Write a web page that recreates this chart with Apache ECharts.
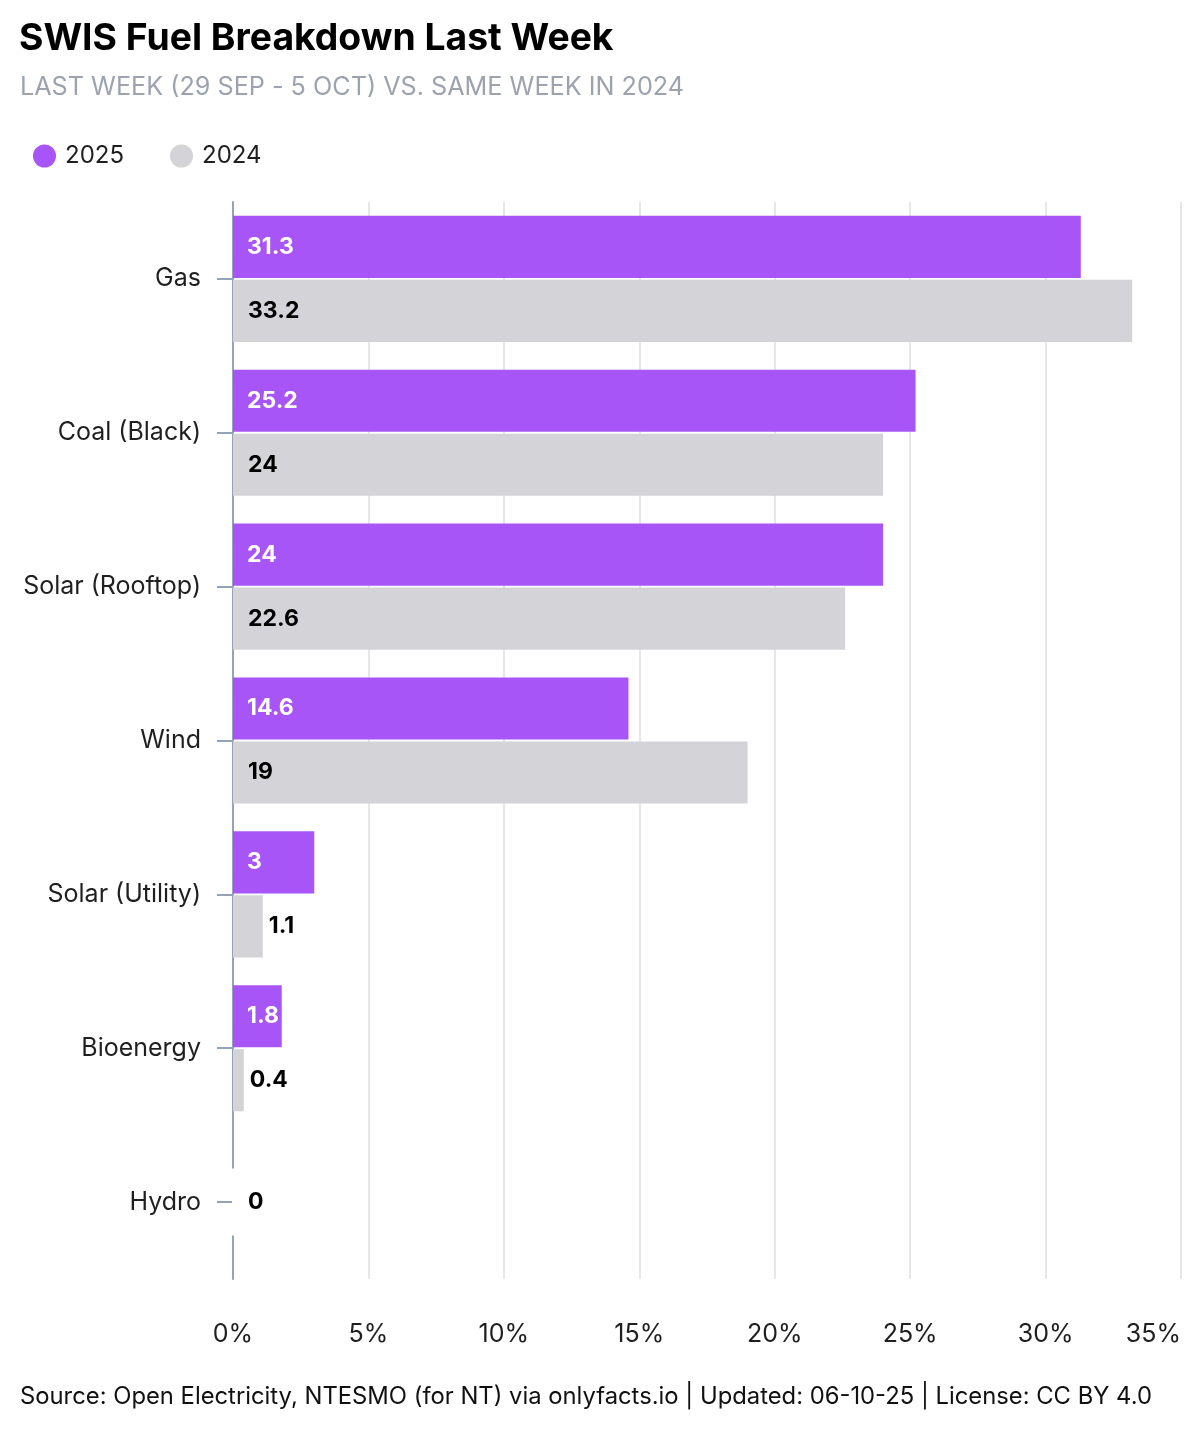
<!DOCTYPE html>
<html>
<head>
<meta charset="utf-8">
<script src="https://cdn.jsdelivr.net/npm/echarts@6/dist/echarts.min.js"></script>
<style>
html,body{margin:0;padding:0;background:#fff;}
#chart{width:1200px;height:1440px;}
</style>
</head>
<body>
<div id="chart"></div>
<script>
const categories = ['Gas', 'Coal (Black)', 'Solar (Rooftop)', 'Wind', 'Solar (Utility)', 'Bioenergy', 'Hydro'];
const values2025 = [31.3, 25.2, 24, 14.6, 3, 1.8, 0];
const values2024 = [33.2, 24, 22.6, 19, 1.1, 0.4, 0];
const xTicks = { min: 0, max: 35, interval: 5 };

const FONT = 'Inter, "Noto Sans", sans-serif';
const PURPLE = '#a855f7';
const GREY = '#d4d4d8';

const data2025 = values2025.map((v, i) => {
  const item = { value: v };
  if (categories[i] === 'Hydro') item.label = { show: false };
  return item;
});
const data2024 = values2024.map((v, i) => {
  const item = { value: v };
  if (categories[i] === 'Hydro') {
    item.label = { position: 'right', distance: 0, offset: [-1, -32],
      backgroundColor: '#fff', padding: [22, 6, 22, 16] };
  } else if (v < 2) {
    item.label = { position: 'right', distance: 6 };
  }
  return item;
});

const chart = echarts.init(document.getElementById('chart'), null, { renderer: 'canvas' });
chart.setOption({
  backgroundColor: '#fff',
  animation: false,
  textStyle: { fontFamily: FONT },
  title: [
    { text: 'SWIS Fuel Breakdown Last Week', left: 14, top: 15,
      textStyle: { fontFamily: FONT, fontSize: 37.3, fontWeight: 700, color: '#000' } },
    { text: 'LAST WEEK (29 SEP - 5 OCT) VS. SAME WEEK IN 2024', left: 15, top: 70,
      textStyle: { fontFamily: FONT, fontSize: 25.2, fontWeight: 400, color: '#9ca3af' } },
    { text: 'Source: Open Electricity, NTESMO (for NT) via onlyfacts.io | Updated: 06-10-25 | License: CC BY 4.0',
      left: 15, top: 1380,
      textStyle: { fontFamily: FONT, fontSize: 23.8, fontWeight: 400, color: '#111' } }
  ],
  legend: {
    left: 28, top: 139,
    icon: 'circle', itemWidth: 23, itemHeight: 23, itemGap: 46,
    textStyle: { fontFamily: FONT, fontSize: 24, color: '#1f1f1f', padding: [0, 0, 0, 4] },
    data: ['2025', '2024']
  },
  grid: { left: 233, right: 19, top: 202, bottom: 161, containLabel: false },
  xAxis: {
    type: 'value', min: xTicks.min, max: xTicks.max, interval: xTicks.interval,
    axisLine: { show: false }, axisTick: { show: false },
    splitLine: { show: true, lineStyle: { color: '#e5e7eb', width: 2 } },
    axisLabel: { formatter: '{value}%', fontFamily: FONT, fontSize: 25, color: '#1f1f1f',
      margin: 43, alignMaxLabel: 'right' }
  },
  yAxis: {
    type: 'category', inverse: true, data: categories,
    axisLine: { show: true, lineStyle: { color: '#94a3b8', width: 2 } },
    axisTick: { show: true, alignWithLabel: true, length: 16, lineStyle: { color: '#94a3b8', width: 2 } },
    axisLabel: { fontFamily: FONT, fontSize: 25, color: '#1f1f1f', margin: 32 },
    splitLine: { show: false }
  },
  series: [
    { name: '2025', type: 'bar', data: data2025, itemStyle: { color: PURPLE },
      barCategoryGap: '18%', barGap: '3%',
      label: { show: true, position: 'insideLeft', distance: 14, color: '#fff',
        fontFamily: FONT, fontSize: 23, fontWeight: 700 } },
    { name: '2024', type: 'bar', data: data2024, itemStyle: { color: GREY },
      barCategoryGap: '18%', barGap: '3%',
      label: { show: true, position: 'insideLeft', distance: 15, color: '#000',
        fontFamily: FONT, fontSize: 23, fontWeight: 700 } }
  ]
});
</script>
</body>
</html>
